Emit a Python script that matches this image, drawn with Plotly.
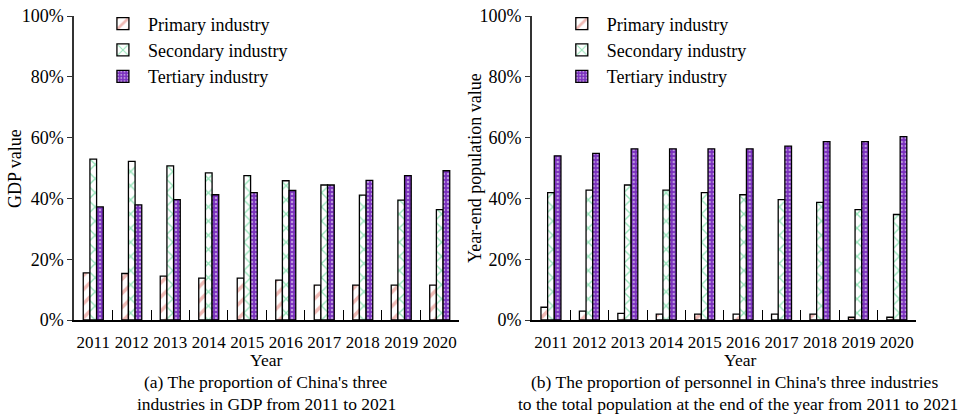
import plotly.graph_objects as go

# Years on the category axis
years = ["2011", "2012", "2013", "2014", "2015", "2016", "2017", "2018", "2019", "2020"]

# (a) share of each industry in GDP (%)
gdp_primary = [15.5, 15.3, 14.4, 13.8, 13.8, 13.1, 11.5, 11.5, 11.5, 11.5]
gdp_secondary = [52.9, 52.2, 50.7, 48.4, 47.5, 45.8, 44.4, 41.1, 39.4, 36.3]
gdp_tertiary = [37.2, 37.9, 39.6, 41.2, 41.9, 42.6, 44.4, 45.9, 47.5, 49.1]

# (b) share of year-end employed persons by industry (%)
pop_primary = [4.2, 2.9, 2.2, 1.9, 1.9, 1.9, 1.9, 1.9, 0.9, 0.9]
pop_secondary = [41.9, 42.7, 44.4, 42.7, 41.9, 41.2, 39.6, 38.7, 36.3, 34.7]
pop_tertiary = [54.0, 54.8, 56.3, 56.3, 56.3, 56.3, 57.2, 58.7, 58.7, 60.3]

series_names = ["Primary industry", "Secondary industry", "Tertiary industry"]
y_ticks = [0, 20, 40, 60, 80, 100]
y_tick_text = ["0%", "20%", "40%", "60%", "80%", "100%"]

FONT = "Liberation Serif, Times New Roman, serif"
RED = "#e0756c"
GREEN = "#2ec873"
PURPLE = "#7a30bd"

styles = [
    dict(color="white", pattern=dict(shape="/", fgcolor=RED, bgcolor="white", size=10, solidity=0.35)),
    dict(color="white", pattern=dict(shape="x", fgcolor=GREEN, bgcolor="white", size=10, solidity=0.25)),
    dict(color=PURPLE, pattern=dict(shape=".", fgcolor="white", bgcolor=PURPLE, size=4, solidity=0.3)),
]

fig = go.Figure()

panels = [
    ("x", "y", "legend", [gdp_primary, gdp_secondary, gdp_tertiary]),
    ("x2", "y2", "legend2", [pop_primary, pop_secondary, pop_tertiary]),
]
for xa, ya, lg, values in panels:
    for name, vals, st in zip(series_names, values, styles):
        fig.add_trace(go.Bar(
            x=years, y=vals, name=name, xaxis=xa, yaxis=ya, legend=lg,
            marker=dict(color=st["color"], pattern=st["pattern"],
                        line=dict(color="black", width=1.3)),
        ))

xaxis_common = dict(
    type="category", showline=True, linecolor="black", linewidth=1.5,
    ticks="inside", tickson="boundaries", ticklen=10, tickcolor="black", tickwidth=1.2,
    tickangle=0, ticklabelstandoff=6, tickfont=dict(family=FONT, size=17, color="black"),
    showgrid=False, zeroline=False, fixedrange=True,
)
yaxis_common = dict(
    range=[0, 100], tickvals=y_ticks, ticktext=y_tick_text,
    showline=True, linecolor="#333333", linewidth=1.5,
    ticks="outside", ticklen=5, tickcolor="#333333",
    tickfont=dict(family=FONT, size=18, color="black"), showgrid=False, zeroline=False,
)

fig.update_layout(
    width=960, height=417,
    margin=dict(l=0, r=0, t=16, b=97),
    paper_bgcolor="white", plot_bgcolor="white",
    barmode="group", bargap=0.48, bargroupgap=0,
    font=dict(family=FONT, size=18, color="black"),
    xaxis=dict(domain=[0.0771, 0.4781], anchor="y", **xaxis_common),
    xaxis2=dict(domain=[0.5539, 0.9542], anchor="y2", **xaxis_common),
    yaxis=dict(domain=[0, 1], anchor="x", **yaxis_common),
    yaxis2=dict(domain=[0, 1], anchor="x2", **yaxis_common),
    legend=dict(x=0.102, y=1.035, xanchor="left", yanchor="top",
                font=dict(family=FONT, size=18), bgcolor="rgba(0,0,0,0)",
                tracegroupgap=0, itemwidth=40),
    legend2=dict(x=0.58, y=1.035, xanchor="left", yanchor="top",
                 font=dict(family=FONT, size=18), bgcolor="rgba(0,0,0,0)",
                 tracegroupgap=0, itemwidth=40),
)

# Axis titles and panel captions: (x, y, text, angle, size)
texts = [
    (0.0156, 0.5, "GDP value", -90, 18),
    (0.4948, 0.5, "Year-end population value", -90, 18),
    (0.2776, -0.131, "Year", 0, 17.5),
    (0.2776, -0.204, "(a) The proportion of China's three", 0, 17.5),
    (0.2776, -0.2755, "industries in GDP from 2011 to 2021", 0, 17.5),
    (0.7708, -0.131, "Year", 0, 17.5),
    (0.7656, -0.204, "(b) The proportion of personnel in China's three industries", 0, 17.5),
    (0.7688, -0.2755, "to the total population at the end of the year from 2011 to 2021", 0, 17.5),
]
for xp, yp, text, ang, sz in texts:
    fig.add_annotation(text=text, x=xp, y=yp, xref="paper", yref="paper",
                       xanchor="center", yanchor="middle", showarrow=False, textangle=ang,
                       font=dict(family=FONT, size=sz, color="black"))

fig.write_html("out.html")
